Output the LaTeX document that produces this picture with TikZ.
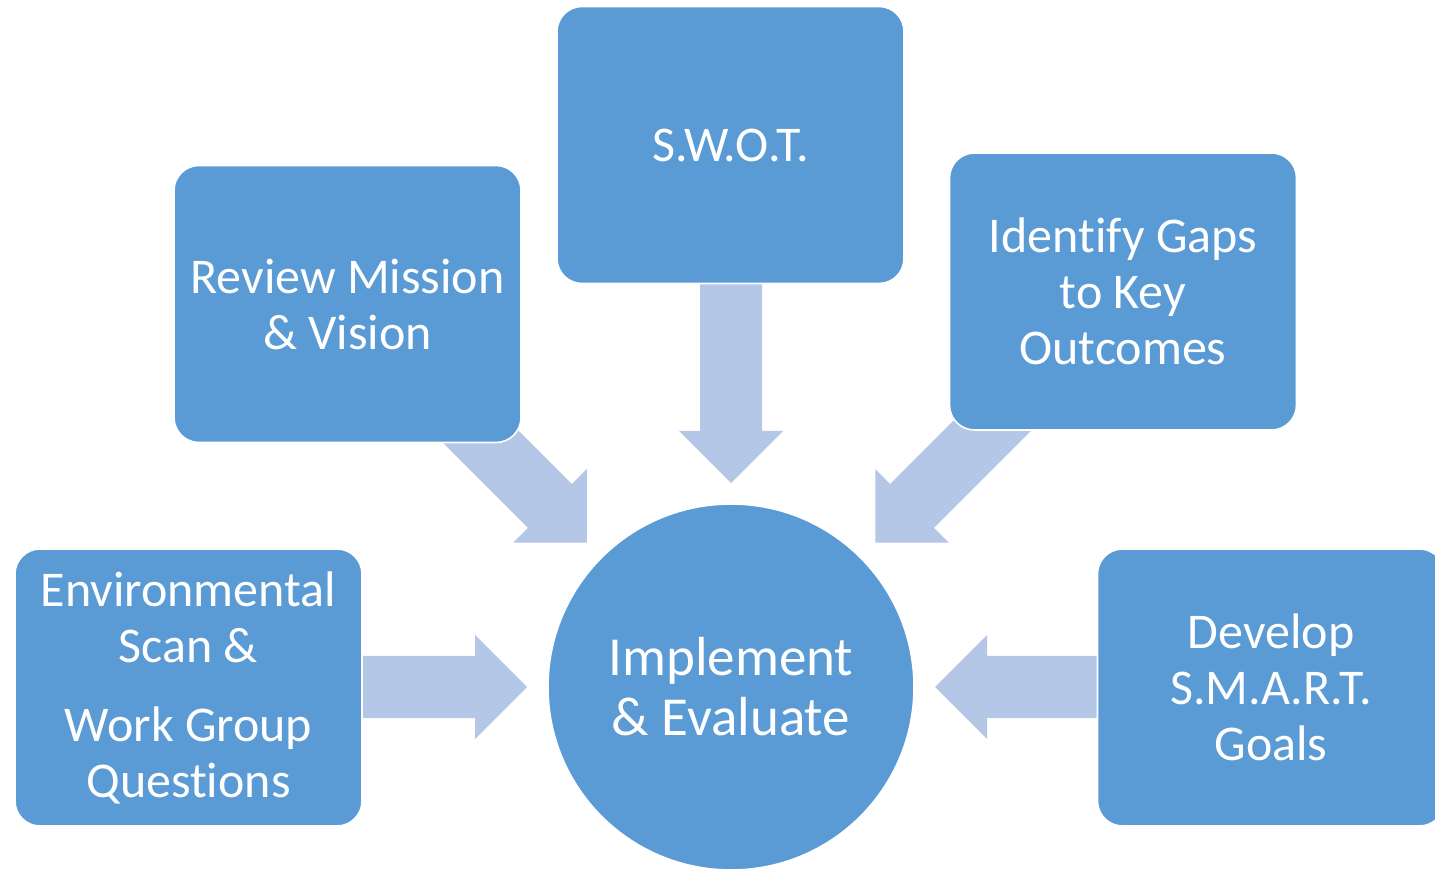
\documentclass[tikz,border=0pt]{standalone}
\usepackage{fontspec}
\setmainfont{Carlito}[Ligatures=NoCommon]
\definecolor{boxblue}{HTML}{5B9BD5}
\definecolor{arrowblue}{HTML}{B4C7E7}
\tikzset{
  stage/.style={draw=white, line width=0.8pt, fill=boxblue, rounded corners=12.5pt,
    minimum width=173.5pt, minimum height=138.5pt, text=white, align=center,
    font=\fontsize{25}{28}\selectfont, inner sep=0pt},
  hub/.style={circle, draw=white, line width=0.8pt, fill=boxblue, minimum size=183pt,
    text=white, align=center, font=\fontsize{27.5}{30}\selectfont, inner sep=0pt},
  flow/.style={fill=arrowblue}
}
\newcommand\flowarrow[2]{%
  \begin{scope}[shift={(hubc.center)}, rotate=#1]
    \fill[flow] (204,0) -- (256,52) -- (256,31) -- (#2,31) -- (#2,-31)
      -- (256,-31) -- (256,-52) -- cycle;
  \end{scope}}
\begin{document}
\begin{tikzpicture}[x=0.5pt, y=0.5pt]
  \useasboundingbox (0,0) rectangle (1435,868);
  \node[hub] (hubc) at (731,181) {Implement\\\& Evaluate};
  % block arrows pointing to the hub
  \flowarrow{180}{380}
  \flowarrow{135}{400}
  \flowarrow{90}{415}
  \flowarrow{45}{400}
  \flowarrow{0}{375}
  % stages
  \node[stage] (swot) at (730.5,723) {S.W.O.T.};
  \node[stage] (review) at (347.5,564) {Review Mission\\\& Vision};
  \node[stage] (gaps) at (1123,576.5) {Identify Gaps\\to Key\\Outcomes};
  \node[stage] (env) at (188.5,180.5) {Environmental\\Scan \&\\[11.5pt]Work Group\\Questions};
  \node[stage] (smart) at (1271,180.5) {Develop\\S.M.A.R.T.\\Goals};
\end{tikzpicture}
\end{document}
